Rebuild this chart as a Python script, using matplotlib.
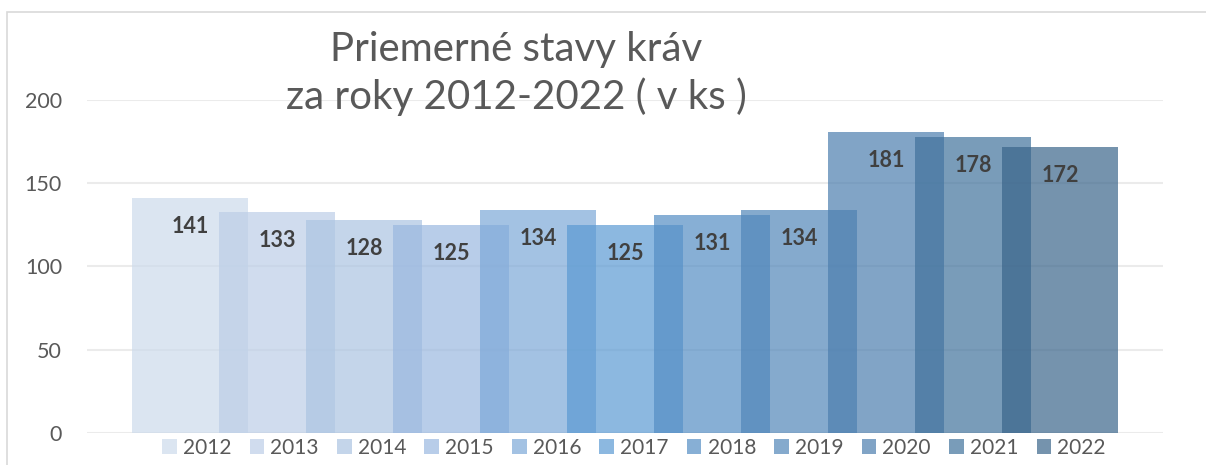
import numpy as np
import matplotlib
matplotlib.use('Agg')
import matplotlib.pyplot as plt
from matplotlib.patches import Rectangle
from matplotlib.colors import to_rgb

# data
years = ['2012', '2013', '2014', '2015', '2016', '2017', '2018', '2019', '2020', '2021', '2022']
cows = [141, 133, 128, 125, 134, 125, 131, 134, 181, 178, 172]
yticks = [0, 50, 100, 150, 200]

# colours as they look on white, bars are drawn with alpha
seen = ['#DCE6F2', '#D0DDEE', '#C4D6EB', '#B8CDE9', '#A4C2E4', '#8CB8E0',
        '#88B0D6', '#85AACE', '#82A5C6', '#7A9CBA', '#7593AE']
alpha = 0.7
base = [tuple(np.clip((np.array(to_rgb(c)) - (1 - alpha)) / alpha, 0, 1)) for c in seen]

plt.rcParams['font.family'] = ['Lato', 'DejaVu Sans']

fig = plt.figure(figsize=(12.06, 4.65), dpi=100)
ax = fig.add_axes([0.0721, 0.0688, 0.8922, 0.7162])

# outer chart border
fig.add_artist(Rectangle((7 / 1206, -0.2), 1.2, 1.2 - 12 / 465,
                         transform=fig.transFigure, fill=False,
                         edgecolor='#D9D9D9', linewidth=1.2))

x = np.arange(len(years))
width = 116 / 87
for i in range(len(years)):
    ax.bar(x[i], cows[i], width=width, color=base[i], alpha=alpha,
           zorder=2 + i, label=years[i], linewidth=0)
    ax.annotate(str(cows[i]), xy=(x[i], cows[i]), xytext=(0, -20.5),
                textcoords='offset points', ha='center', va='center',
                fontsize=15.5, fontweight='bold', color='#404040', zorder=30)

ax.set_xlim(-1.184, -1.184 + 1076 / 87)
ax.set_ylim(0, 200)
ax.set_yticks(yticks)
ax.set_xticks([])
ax.tick_params(axis='y', length=0, labelsize=15.5, labelcolor='#595959', pad=18)
ax.grid(axis='y', color='#EBEBEB', linewidth=1.5, zorder=0)
ax.set_axisbelow(True)
for s in ax.spines.values():
    s.set_visible(False)

fig.text(0.428, 0.842, 'Priemerné stavy kráv\nza roky 2012-2022 ( v ks )',
         ha='center', va='center', fontsize=29, color='#595959', linespacing=1.3)

ax.legend(loc='center', bbox_to_anchor=(634 / 1206, 1 - 448 / 465),
          bbox_transform=fig.transFigure, ncol=11, frameon=False,
          fontsize=15, labelcolor='#595959', handlelength=0.7, handleheight=0.7,
          handletextpad=0.3, columnspacing=0.87, borderpad=0, borderaxespad=0)

fig.savefig('out.png', dpi=100)
